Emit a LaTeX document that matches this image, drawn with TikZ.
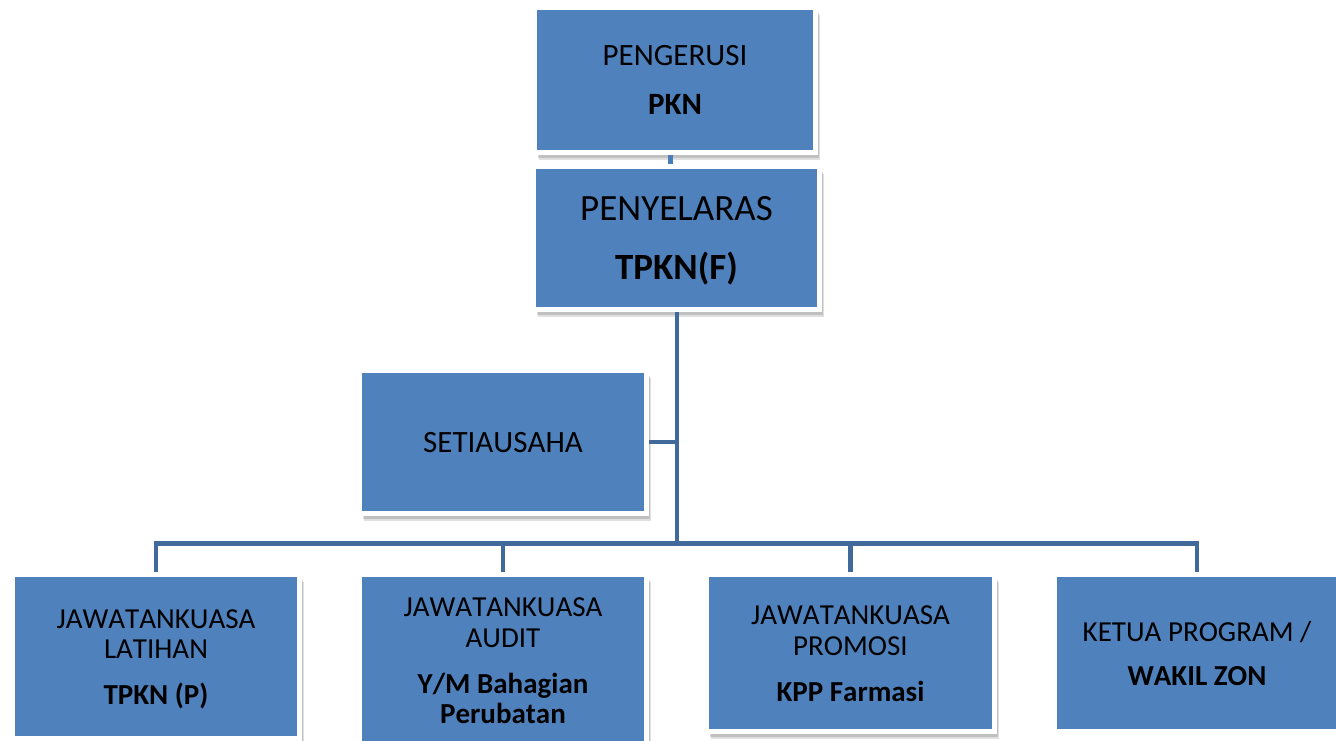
\documentclass[tikz,border=0pt]{standalone}
\usepackage{fontspec}
\setmainfont{Carlito}[Kerning=Off]
\usetikzlibrary{shadows,calc}
\definecolor{boxblue}{HTML}{4F81BD}
\definecolor{linkblue}{HTML}{41699B}
\definecolor{toplink}{HTML}{4A7EBB}
\tikzset{
  plainbox/.style={rectangle, draw=white, line width=5pt, fill=boxblue, inner sep=0pt},
  orgbox/.style={plainbox,
    drop shadow={shadow xshift=4.5pt, shadow yshift=-7pt, fill=black, opacity=0.12},
    drop shadow={shadow xshift=3pt, shadow yshift=-5pt, fill=black, opacity=0.14}},
  txt/.style={inner sep=0pt, align=center, text=black},
  smalltxt/.style={txt, font=\fontsize{29}{30.5}\selectfont},
  midtxt/.style={txt, font=\fontsize{31}{33}\selectfont},
  bigtxt/.style={txt, font=\fontsize{37}{39}\selectfont},
  conn/.style={draw=linkblue, line width=4.5pt, line join=miter},
  topconn/.style={draw=toplink, line width=5pt}
}
\begin{document}
\begin{tikzpicture}[x=1pt,y=-1pt]
\clip (0,0) rectangle (1336,740);
\fill[white] (0,0) rectangle (1336,740);
\coordinate (busy) at (0,543.5);
\coordinate (trunkx) at (677,0);
\coordinate (pkx) at (670,0);

% boxes
\node[orgbox, minimum width=281pt, minimum height=145pt] (PKN) at (675,80) {};
\node[orgbox, minimum width=286pt, minimum height=143pt] (TPKN) at (676.5,238) {};
\node[orgbox, minimum width=287pt, minimum height=143pt] (SET) at (503,442) {};
\node[orgbox, minimum width=287pt, minimum height=164pt] (B1) at (156,656.5) {};
\node[orgbox, minimum width=287pt, minimum height=173pt] (B2) at (503,661) {};
\node[orgbox, minimum width=288pt, minimum height=157pt] (B3) at (850.5,653) {};
\node[plainbox, minimum width=285pt, minimum height=157pt] (B4) at (1197,653) {};

% texts
\node[midtxt] (PKNt) at (PKN.center) {PENGERUSI\\[16pt]\textbf{PKN}};
\node[bigtxt] (TPKNt) at ([yshift=-3pt]TPKN.center) {PENYELARAS\\[20pt]\textbf{TPKN(F)}};
\node[midtxt] (SETt) at ([yshift=-0.5pt]SET.center) {SETIAUSAHA};
\node[smalltxt] (B1t) at ([yshift=-3pt]B1.center) {JAWATANKUASA\\LATIHAN\\[15.5pt]\textbf{TPKN (P)}};
\node[smalltxt] (B2t) at (B2.center) {JAWATANKUASA\\AUDIT\\[15.5pt]\textbf{Y/M Bahagian}\\\textbf{Perubatan}};
\node[smalltxt] (B3t) at ([yshift=-0.5pt]B3.center) {JAWATANKUASA\\PROMOSI\\[15.5pt]\textbf{KPP Farmasi}};
\node[smalltxt] (B4t) at ([yshift=-0.5pt]B4.center) {KETUA PROGRAM /\\[14pt]\textbf{WAKIL ZON}};

% connectors
\draw[topconn] (PKN.south -| pkx) -- (TPKN.north -| pkx);
\draw[conn] (TPKN.south -| trunkx) -- (busy -| trunkx);
\draw[conn] (SET.east) -- (SET.east -| trunkx);
\draw[conn] (B1.north) -- (B1.north |- busy) -- (B4.north |- busy) -- (B4.north);
\draw[conn] (B2.north) -- (B2.north |- busy);
\draw[conn] (B3.north) -- (B3.north |- busy);
\end{tikzpicture}
\end{document}
